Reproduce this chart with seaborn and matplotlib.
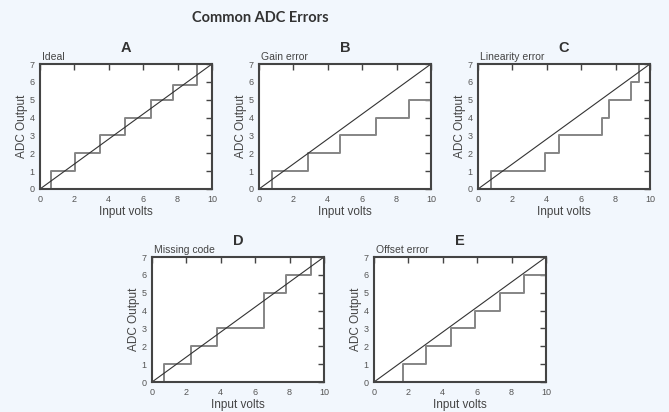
import matplotlib
matplotlib.use("Agg")
import matplotlib.pyplot as plt
import seaborn as sns

sns.set_theme(style="white")
plt.rcParams['font.family'] = ['Liberation Sans', 'DejaVu Sans']

# ---- data ----
panel_letters = ["A", "B", "C", "D", "E"]
panel_names = ["Ideal", "Gain error", "Linearity error", "Missing code", "Offset error"]

# transition voltages (x) and output code after each transition (y)
a_x = [0.64, 2.04, 3.51, 4.97, 6.47, 7.71, 9.15]
a_y = [1, 2, 3, 4, 5, 5.85, 7]
b_x = [0.76, 2.82, 4.72, 6.78, 8.74]
b_y = [1, 2, 3, 4, 5]
c_x = [0.74, 3.88, 4.72, 7.22, 7.61, 8.89, 9.38]
c_y = [1, 2, 3, 4, 5, 6, 7]
d_x = [0.70, 2.24, 3.76, 6.50, 7.78, 9.24]
d_y = [1, 2, 3, 5, 6, 7]
e_x = [1.69, 3.05, 4.47, 5.90, 7.30, 8.74]
e_y = [1, 2, 3, 4, 5, 6]

ideal_x = [0, 10]
ideal_y = [0, 7]

x_ticks = [0, 2, 4, 6, 8, 10]
y_ticks = [0, 1, 2, 3, 4, 5, 6, 7]

steps = [(a_x, a_y), (b_x, b_y), (c_x, c_y), (d_x, d_y), (e_x, e_y)]

# ---- layout ----
W, H = 669, 412
bg = "#f2f7fd"
fig = plt.figure(figsize=(W / 100, H / 100), dpi=100, facecolor=bg)

# (left, top) pixel positions of each axes box
boxes = [(40, 64), (259, 64), (478, 64), (152, 257), (374, 257)]
aw, ah = 172, 125

for (lx, ty), letter, name, (sx, sy) in zip(boxes, panel_letters, panel_names, steps):
    ax = fig.add_axes([lx / W, (H - ty - ah) / H, aw / W, ah / H])
    ax.set_facecolor("white")
    xs = [0] + sx + [10]
    ys = [0] + sy + [sy[-1]]
    sns.lineplot(x=xs, y=ys, drawstyle="steps-post", color="#858585",
                 linewidth=1.4, ax=ax, estimator=None, sort=False)
    sns.lineplot(x=ideal_x, y=ideal_y, color="#333333", linewidth=0.8,
                 ax=ax, estimator=None, sort=False)
    ax.set_xlim(0, 10)
    ax.set_ylim(0, 7)
    ax.set_xticks(x_ticks)
    ax.set_yticks(y_ticks)
    ax.tick_params(direction="in", length=4, width=1, colors="#444444",
                   labelcolor="#555555", labelsize=6.5, top=True, right=True,
                   pad=4)
    for s in ax.spines.values():
        s.set_color("#444444")
        s.set_linewidth(1.5)
    ax.set_xlabel("Input volts", fontsize=8.5, color="#444444", labelpad=2)
    ax.set_ylabel("ADC Output", fontsize=8.5, color="#444444", labelpad=1)
    ax.set_title(letter, fontsize=10.5, fontweight="bold", color="#333333", pad=9)
    ax.text(0.01, 1.02, name, transform=ax.transAxes, ha="left", va="bottom",
            fontsize=7.5, color="#444444")

fig.text(260 / W, 1 - 18 / H, "Common ADC Errors", ha="center", va="center",
         fontsize=10.5, fontweight="bold", color="#333333", family=["Lato", "DejaVu Sans"])

fig.savefig("out.png", dpi=100, facecolor=bg)
